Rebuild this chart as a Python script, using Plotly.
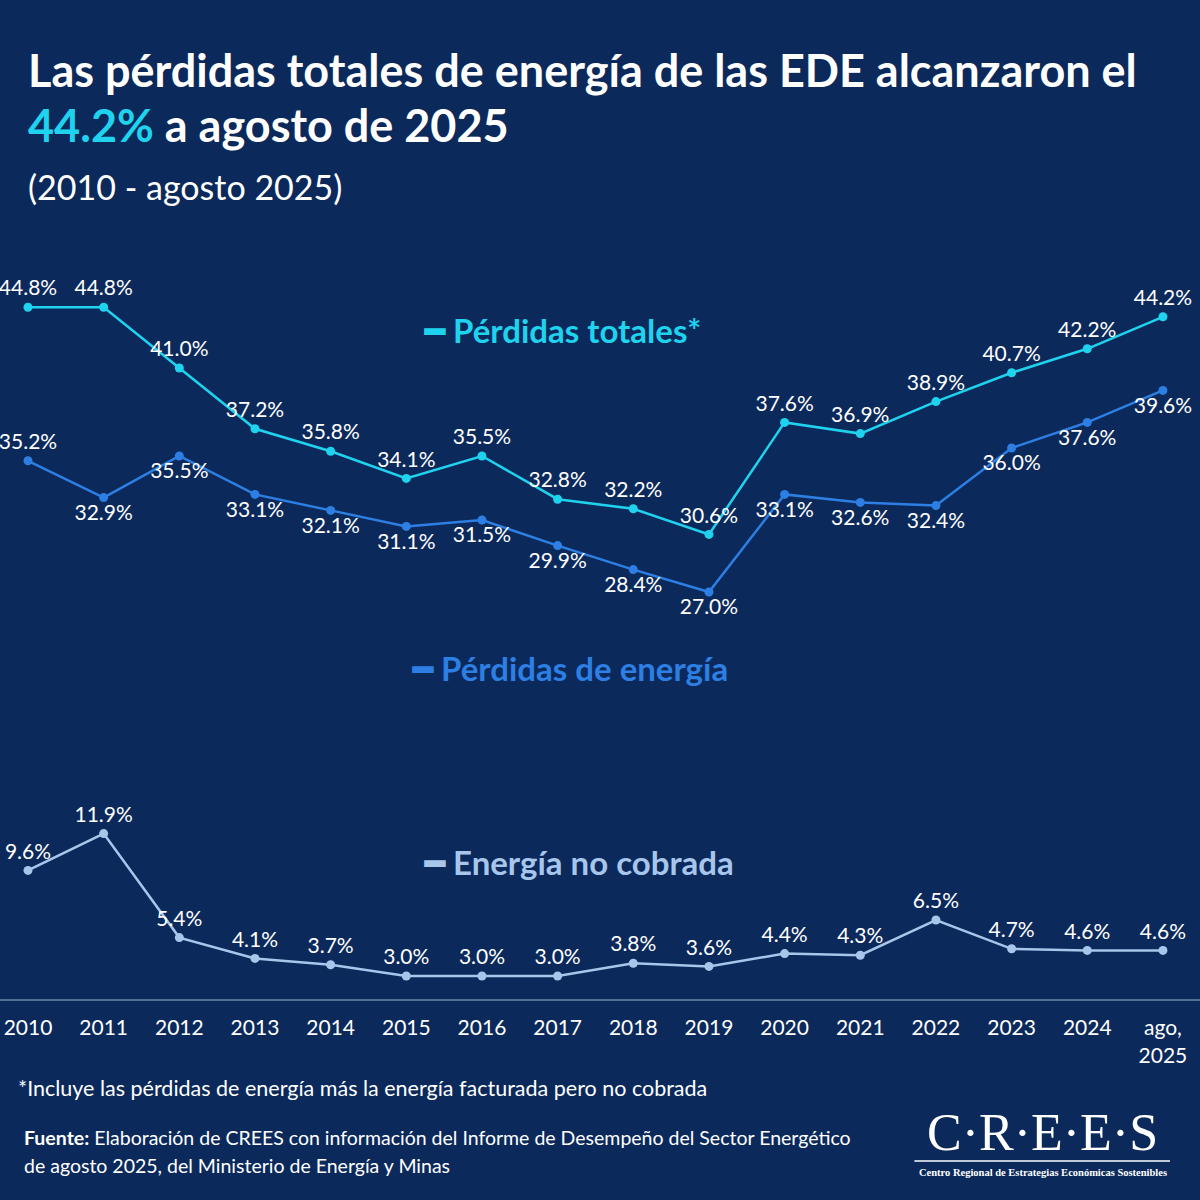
import plotly.graph_objects as go

years = ["2010", "2011", "2012", "2013", "2014", "2015", "2016", "2017",
         "2018", "2019", "2020", "2021", "2022", "2023", "2024", "ago,<br>2025"]
totales = [44.8, 44.8, 41.0, 37.2, 35.8, 34.1, 35.5, 32.8, 32.2, 30.6, 37.6, 36.9, 38.9, 40.7, 42.2, 44.2]
energia = [35.2, 32.9, 35.5, 33.1, 32.1, 31.1, 31.5, 29.9, 28.4, 27.0, 33.1, 32.6, 32.4, 36.0, 37.6, 39.6]
no_cobrada = [9.6, 11.9, 5.4, 4.1, 3.7, 3.0, 3.0, 3.0, 3.8, 3.6, 4.4, 4.3, 6.5, 4.7, 4.6, 4.6]

BG = "#0b2a5b"
C_TOT = "#1fd3ee"
C_ENE = "#2d7fe3"
C_NOC = "#a8c6ec"
FONT = "Lato"

x = list(range(len(years)))
fig = go.Figure()

def add(vals, color, pos):
    fig.add_trace(go.Scatter(
        x=x, y=vals, mode="lines+markers+text",
        line=dict(color=color, width=2.5), marker=dict(color=color, size=9),
        text=[f"{v:.1f}%" for v in vals], textposition=pos,
        textfont=dict(color="white", size=21, family=FONT),
        cliponaxis=False, showlegend=False))

add(totales, C_TOT, "top center")
add(energia, C_ENE, ["top center"] + ["bottom center"] * 15)
add(no_cobrada, C_NOC, "top center")

fig.update_xaxes(tickmode="array", tickvals=x, ticktext=years, range=[-0.37, 15.49],
                 showgrid=False, zeroline=False, showline=False,
                 ticks="outside", ticklen=9, tickcolor=BG,
                 tickfont=dict(color="white", size=21, family=FONT))
fig.update_yaxes(range=[1.5, 47], visible=False)

fig.add_shape(type="line", xref="paper", yref="paper", x0=0, x1=1, y0=0, y1=0,
              line=dict(color="#9fb3cc", width=1))

def py(top):
    # pixel from top of page -> paper y (plot area: top 272, bottom 1000)
    return (1000 - top) / 728

anns = [
    (0.022, 70, "<b>Las pérdidas totales de energía de las EDE alcanzaron el</b>", 45, "white"),
    (0.022, 125, f"<b><span style='color:{C_TOT}'>44.2%</span> a agosto de 2025</b>", 45, "white"),
    (0.022, 186, "(2010 - agosto 2025)", 34, "white"),
    (0.352, 330, "<b>━ Pérdidas totales*</b>", 33, C_TOT),
    (0.342, 668, "<b>━ Pérdidas de energía</b>", 33, C_ENE),
    (0.352, 862, "<b>━ Energía no cobrada</b>", 33, C_NOC),
    (0.013, 1088, "*Incluye las pérdidas de energía más la energía facturada pero no cobrada", 21.5, "white"),
    (0.018, 1137, "<b>Fuente:</b> Elaboración de CREES con información del Informe de Desempeño del Sector Energético", 19.5, "white"),
    (0.018, 1165, "de agosto 2025, del Ministerio de Energía y Minas", 19.5, "white"),
]
for ax, top, text, size, color in anns:
    fig.add_annotation(xref="paper", yref="paper", x=ax, y=py(top), text=text,
                       showarrow=False, xanchor="left", yanchor="middle",
                       font=dict(size=size, color=color, family=FONT))

fig.add_annotation(xref="paper", yref="paper", x=0.869, y=py(1132), text="C·R·E·E·S",
                   showarrow=False, xanchor="center", yanchor="middle",
                   font=dict(size=52, color="white", family="Liberation Serif"))
fig.add_shape(type="line", xref="paper", yref="paper", x0=0.762, x1=0.975,
              y0=py(1161), y1=py(1161), line=dict(color="white", width=1.5))
fig.add_annotation(xref="paper", yref="paper", x=0.869, y=py(1172),
                   text="<b>Centro Regional de Estrategias Económicas Sostenibles</b>",
                   showarrow=False, xanchor="center", yanchor="middle",
                   font=dict(size=10.5, color="white", family="Liberation Serif"))

fig.update_layout(width=1200, height=1200, paper_bgcolor=BG, plot_bgcolor=BG,
                  margin=dict(l=0, r=0, t=272, b=200))
fig.write_html("out.html", config={"displayModeBar": False},
               post_script="document.body.style.margin='0';")
